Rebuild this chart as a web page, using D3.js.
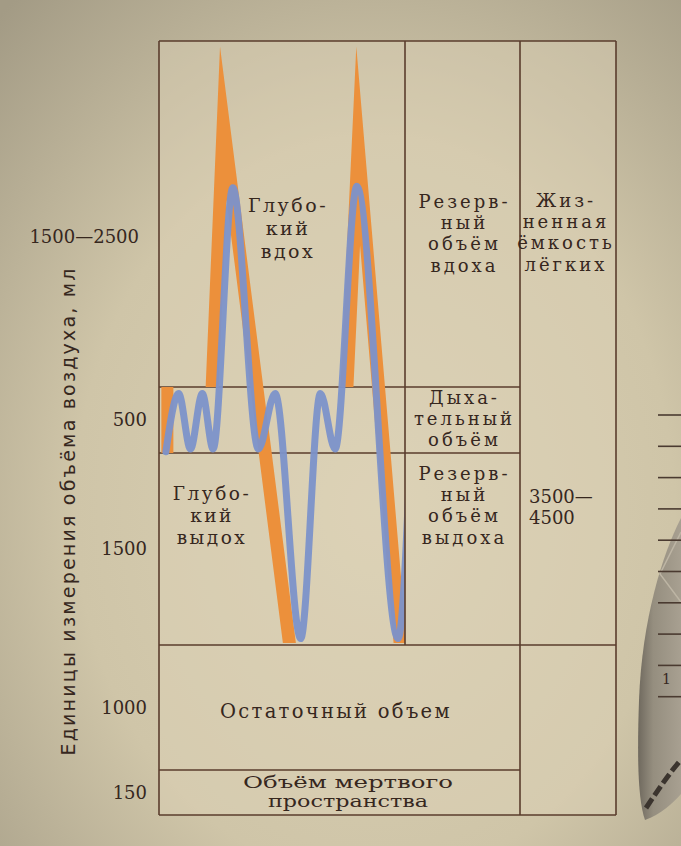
<!DOCTYPE html>
<html><head><meta charset="utf-8">
<script src="https://cdn.jsdelivr.net/npm/d3@7"></script>
<style>html,body{margin:0;padding:0;background:#c8bea2;} svg{display:block}</style>
</head><body>
<svg id="chart" width="681" height="846"></svg>
<script>
// ---------------- data ----------------
// cumulative (schematic) lung-volume boundaries, ml, bottom -> top
const volumeLevels = [0, 150, 1150, 2650, 3150, 5650];
// axis labels for each band (bottom -> top)
const tickLabels = ["150", "1000", "1500", "500", "1500—2500"];
// spirogram (blue) trace: time (s) and volume (ml)
const traceTime   = [0.7, 2.0, 3.2, 4.4, 5.5, 7.5, 10.1, 11.8, 14.4, 16.4, 17.9, 20.1, 24.3, 25.6];
const traceVolume = [2660, 3100, 2680, 3100, 2680, 4590, 2680, 3100, 1200, 3100, 2680, 4600, 1200, 2750];
// orange envelope: short vertical piece + two wedges (base-left, peak, base-right)
const envStartTime = [0.85, 0.85];
const envStartVolume = [2650, 3150];
const wedge1Time = [5.4, 6.2, 13.25];
const wedge1Volume = [3150, 5610, 1165];
const wedge2Time = [19.1, 20.05, 24.5];
const wedge2Volume = [3150, 5610, 1165];
// texts
const yAxisTitle = "Единицы измерения объёма воздуха, мл";
const txtDeepIn = ["Глубо-", "кий", "вдох"];
const txtDeepOut = ["Глубо-", "кий", "выдох"];
const txtIRV = ["Резерв-", "ный", "объём", "вдоха"];
const txtTV = ["Дыха-", "тельный", "объём"];
const txtERV = ["Резерв-", "ный", "объём", "выдоха"];
const txtVC = ["Жиз-", "ненная", "ёмкость", "лёгких"];
const txtVCValue = ["3500—", "4500"];
const txtRV = ["Остаточный  объем"];
const txtDead = ["Объём мертвого", "пространства"];

// ---------------- layout ----------------
const W = 681, H = 846;
const xLeft = 159, xDiv1 = 405, xDiv2 = 520, xRight = 616;
const svg = d3.select("#chart");
const ink = "#5a3d2d", textInk = "#36271e";

const y = d3.scaleLinear().domain(volumeLevels).range([815, 770, 645, 453, 387, 41]);
const x = d3.scaleLinear().domain([0, 25]).range([xLeft, xDiv1]);
const yTop = y(volumeLevels[5]), yBottom = y(volumeLevels[0]);

// background (photographed paper)
const defs = svg.append("defs");
const rg = defs.append("radialGradient").attr("id", "paper")
  .attr("cx", 0.55).attr("cy", 0.6).attr("r", 0.8);
rg.append("stop").attr("offset", "0").attr("stop-color", "#dbd1b5");
rg.append("stop").attr("offset", "0.55").attr("stop-color", "#cfc5a8");
rg.append("stop").attr("offset", "1").attr("stop-color", "#a39b85");
svg.append("rect").attr("width", W).attr("height", H).attr("fill", "url(#paper)");

// decoration: part of neighbouring figure at right edge
const lg = defs.append("linearGradient").attr("id", "lung").attr("x1", 0).attr("x2", 1);
lg.append("stop").attr("offset", "0").attr("stop-color", "#6f695e");
lg.append("stop").attr("offset", "0.35").attr("stop-color", "#958e7f");
lg.append("stop").attr("offset", "1").attr("stop-color", "#a8a091");
svg.append("path").attr("d", "M681,518 C662,555 642,620 639,700 C637,760 638,800 645,820 C660,815 674,802 681,794 Z")
  .attr("fill", "url(#lung)");
svg.append("path").attr("d", "M681,532 L660,574 L681,602").attr("fill", "none").attr("stroke", "#bdb5a4").attr("stroke-width", 1.5);
svg.append("path").attr("d", "M646,808 C658,790 670,772 681,760").attr("fill", "none")
  .attr("stroke", "#3b342e").attr("stroke-width", 5).attr("stroke-dasharray", "11,4");
svg.selectAll("line.rtick").data(d3.range(10)).join("line").attr("class", "rtick")
  .attr("x1", 658).attr("x2", 681).attr("y1", i => 415 + i * 31.3).attr("y2", i => 415 + i * 31.3)
  .attr("stroke", "#4a3a30").attr("stroke-width", 1.6);
svg.append("text").attr("x", 662).attr("y", 684).attr("font-family", "DejaVu Serif").attr("font-size", 14)
  .attr("fill", textInk).text("1");

// inner box slightly lighter
svg.append("rect").attr("x", xLeft).attr("y", yTop).attr("width", xRight - xLeft).attr("height", yBottom - yTop)
  .attr("fill", "#ddd3b8").attr("opacity", 0.45);

// ---------------- frame lines ----------------
const frame = svg.append("g").attr("stroke", ink).attr("stroke-width", 1.6).attr("fill", "none");
const hLines = [
  [xLeft, xRight, y(volumeLevels[5])],
  [xLeft, xDiv2, y(volumeLevels[4])],
  [xLeft, xDiv2, y(volumeLevels[3])],
  [xLeft, xRight, y(volumeLevels[2])],
  [xLeft, xDiv2, y(volumeLevels[1])],
  [xLeft, xRight, y(volumeLevels[0])]
];
frame.selectAll("line.h").data(hLines).join("line").attr("class", "h")
  .attr("x1", d => d[0]).attr("x2", d => d[1]).attr("y1", d => d[2]).attr("y2", d => d[2]);
frame.append("line").attr("x1", xLeft).attr("x2", xLeft).attr("y1", yTop).attr("y2", yBottom);
frame.append("line").attr("x1", xDiv2).attr("x2", xDiv2).attr("y1", yTop).attr("y2", yBottom);
frame.append("line").attr("x1", xRight).attr("x2", xRight).attr("y1", yTop).attr("y2", yBottom);

// ---------------- traces ----------------
defs.append("clipPath").attr("id", "plotClip").append("rect")
  .attr("x", xLeft + 0.8).attr("y", yTop).attr("width", xDiv1 - xLeft - 0.8).attr("height", y(volumeLevels[2]) - yTop);
const plot = svg.append("g").attr("clip-path", "url(#plotClip)");
const orange = "#ec903b";

plot.append("line")
  .attr("x1", x(envStartTime[0])).attr("x2", x(envStartTime[1]))
  .attr("y1", y(envStartVolume[0])).attr("y2", y(envStartVolume[1]))
  .attr("stroke", orange).attr("stroke-width", 12);

function intersect(p1, d1, p2, d2) {
  const den = d1[0] * d2[1] - d1[1] * d2[0];
  const s = ((p2[0] - p1[0]) * d2[1] - (p2[1] - p1[1]) * d2[0]) / den;
  return [p1[0] + s * d1[0], p1[1] + s * d1[1]];
}
function wedge(ts, vs, w) {
  const bL = [x(ts[0]), y(vs[0])], P = [x(ts[1]), y(vs[1])], bR = [x(ts[2]), y(vs[2])];
  const oL = [bL[0] - w / 2, bL[1]], oR = [bR[0] + w / 2, bR[1]];
  const iL = [bL[0] + w / 2, bL[1]], iR = [bR[0] - w / 2, bR[1]];
  const dL = [P[0] - oL[0], P[1] - oL[1]], dR = [oR[0] - P[0], oR[1] - P[1]];
  const tip = intersect(iL, dL, iR, dR);
  return d3.line()([oL, P, oR, iR, tip, iL]) + "Z";
}
[[wedge1Time, wedge1Volume], [wedge2Time, wedge2Volume]].forEach(([ts, vs]) => {
  plot.append("path").attr("d", wedge(ts, vs, 13)).attr("fill", orange);
});

const trace = traceTime.map((t, i) => ({ t, v: traceVolume[i] }));
const line = d3.line().x(d => x(d.t)).y(d => y(d.v)).curve(d3.curveMonotoneX);
plot.append("path").datum(trace).attr("d", line).attr("fill", "none")
  .attr("stroke", "#7c92ca").attr("stroke-width", 7).attr("stroke-linecap", "round").attr("opacity", 0.95);

// divider between chart and columns (on top)
svg.append("line").attr("x1", xDiv1).attr("x2", xDiv1).attr("y1", yTop).attr("y2", y(volumeLevels[2]))
  .attr("stroke", ink).attr("stroke-width", 1.6);

// ---------------- texts ----------------
function block(lines, cx, y0, lh, opts = {}) {
  const g = svg.append("g").attr("font-family", "DejaVu Serif").attr("font-size", opts.size || 18)
    .attr("fill", textInk).attr("letter-spacing", opts.ls == null ? 3 : opts.ls)
    .attr("text-anchor", opts.anchor || "middle");
  const t = g.selectAll("text").data(lines).join("text")
    .attr("x", cx).attr("y", (d, i) => y0 + i * lh).text(d => d);
  if (opts.lengths) t.attr("textLength", (d, i) => opts.lengths[i]).attr("lengthAdjust", "spacingAndGlyphs");
  return g;
}
const colMid1 = (xDiv1 + xDiv2) / 2 + 2;
const colMid2 = (xDiv2 + xRight) / 2 - 2;
block(txtDeepIn, 288, 212, 23, { size: 19, ls: 2.5 });
block(txtDeepOut, 212, 500, 22, { size: 18.5, ls: 2.5 });
block(txtIRV, colMid1, 208, 21.2);
block(txtVC, colMid2, 207, 21.2);
block(txtTV, colMid1, 404, 21);
block(txtERV, colMid1, 480, 21.2);
block(txtVCValue, xDiv2 + 9, 503, 21, { anchor: "start", ls: 0, size: 18 });
block(txtRV, 336, 718, 22, { size: 19.5, ls: 2.3 });
block(txtDead, 348, 788, 18.7, { size: 16, ls: 0, lengths: [210, 160] });

// axis tick labels (centred in their bands)
const tickY = tickLabels.map((_, i) => {
  const mid = (y(volumeLevels[i]) + y(volumeLevels[i + 1])) / 2;
  return i === 4 ? 243 : mid + 6;
});
svg.append("g").attr("font-family", "DejaVu Serif").attr("font-size", 18).attr("fill", textInk)
  .attr("text-anchor", "end")
  .selectAll("text").data(tickLabels).join("text")
  .attr("x", (d, i) => i === 4 ? 139 : 147).attr("y", (d, i) => tickY[i]).text(d => d);

// axis title
svg.append("text").attr("transform", "translate(75,512) rotate(-90)")
  .attr("font-family", "DejaVu Sans").attr("font-size", 19).attr("fill", textInk)
  .attr("text-anchor", "middle").attr("textLength", 487).attr("lengthAdjust", "spacing")
  .text(yAxisTitle);
</script>
</body></html>
